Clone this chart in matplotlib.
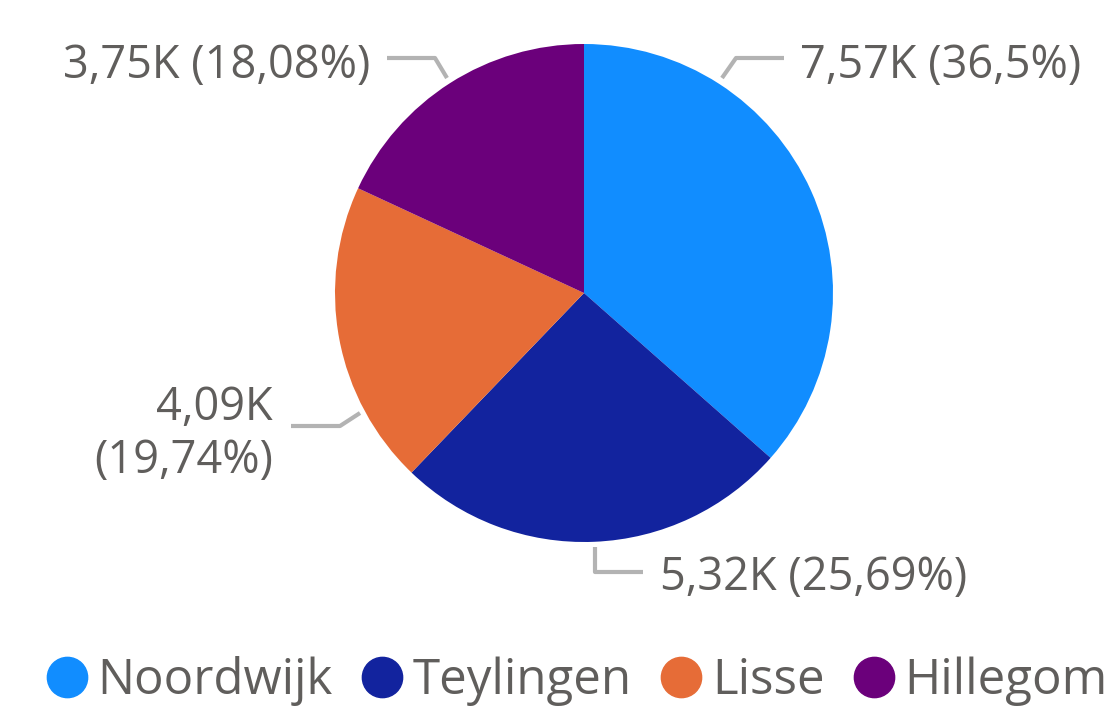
import matplotlib.pyplot as plt
from matplotlib.lines import Line2D

# Data
CATEGORIES = ["Noordwijk", "Teylingen", "Lisse", "Hillegom"]
VALUES = [7.57, 5.32, 4.09, 3.75]
DATA_LABELS = ["7,57K (36,5%)", "5,32K (25,69%)", "4,09K\n(19,74%)", "3,75K (18,08%)"]
COLORS = ["#118DFF", "#12239E", "#E66C37", "#6B007B"]

TEXT_COLOR = "#605E5C"
LINE_COLOR = "#B3B3B3"

plt.rcParams["font.family"] = ["Open Sans", "DejaVu Sans"]

# Canvas in pixel units (y down) so the layout matches the reference image.
figure = plt.figure(figsize=(11.12, 7.08), dpi=100)
axis = figure.add_axes([0, 0, 1, 1])

# With y inverted, counterclockwise in data is clockwise on screen, -90 is 12 o'clock.
axis.pie(
    VALUES,
    colors=COLORS,
    center=(584, 293),
    radius=249,
    startangle=-90,
    counterclock=True,
    wedgeprops={"linewidth": 0},
)
axis.set_xlim(0, 1112)
axis.set_ylim(708, 0)
axis.set_aspect("equal")
axis.axis("off")

# Leader lines and label anchors (layout positions, pixel space)
leaders = [
    [(722, 78), (736, 58), (784, 58)],
    [(595, 547), (595, 572), (643, 572)],
    [(360, 413), (340, 426), (291, 426)],
    [(447, 78), (435, 58), (387, 58)],
]
label_positions = [
    (800, 66, "left"),
    (660, 578, "left"),
    (273, 434, "right"),
    (370, 66, "right"),
]

for points, (x, y, align), text in zip(leaders, label_positions, DATA_LABELS):
    xs = [p[0] for p in points]
    ys = [p[1] for p in points]
    axis.plot(xs, ys, color=LINE_COLOR, linewidth=3, solid_capstyle="butt")
    axis.text(
        x, y, text,
        ha=align, va="center",
        multialignment="right",
        fontsize=32.5,
        color=TEXT_COLOR,
        linespacing=1.2,
    )

handles = [
    Line2D([], [], marker="o", linestyle="", markersize=29,
           markerfacecolor=color, markeredgecolor=color)
    for color in COLORS
]
axis.legend(
    handles,
    CATEGORIES,
    loc="center",
    bbox_to_anchor=(575 / 1112, 1 - 681 / 708),
    ncol=4,
    frameon=False,
    fontsize=35.5,
    labelcolor=TEXT_COLOR,
    handletextpad=0.12,
    columnspacing=0.5,
    handlelength=1.0,
    borderaxespad=0,
    borderpad=0,
)

figure.savefig("out.png", dpi=100)
plt.close(figure)
